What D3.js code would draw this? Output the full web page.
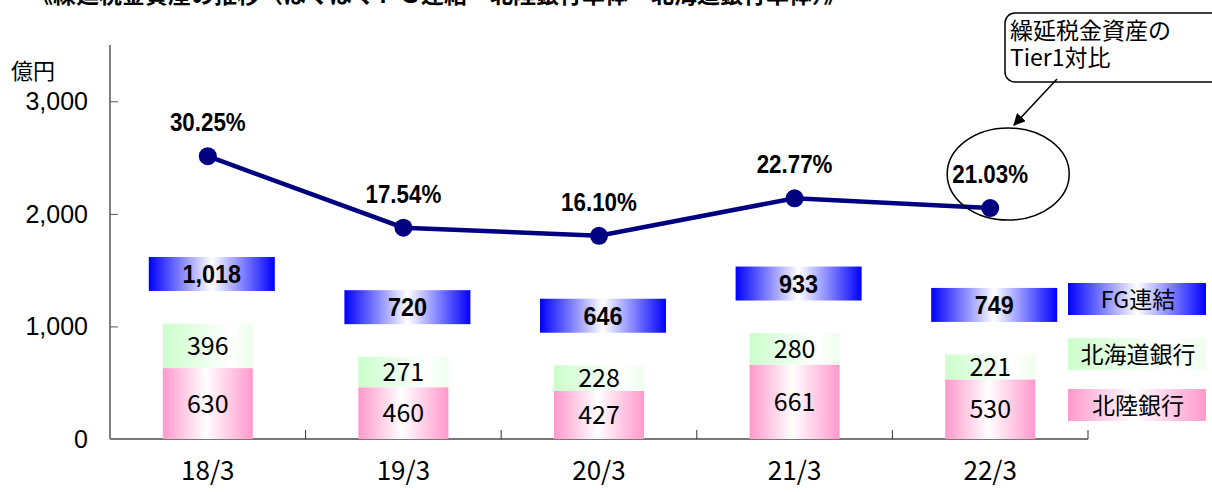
<!DOCTYPE html>
<html>
<head>
<meta charset="utf-8">
<script src="https://cdn.jsdelivr.net/npm/d3@7"></script>
<style>
  body { margin: 0; background: #fff; }
  svg { display: block; }
</style>
</head>
<body>
<svg id="chart" width="1212" height="492"></svg>
<script>
// data
var categories = ["18/3", "19/3", "20/3", "21/3", "22/3"];
var hokurikuVals = [630, 460, 427, 661, 530];
var hokkaidoVals = [396, 271, 228, 280, 221];
var fgVals = [1018, 720, 646, 933, 749];
var tier1Ratio = [30.25, 17.54, 16.10, 22.77, 21.03];
var yTicks = [0, 1000, 2000, 3000];
var legendNames = ["FG連結", "北海道銀行", "北陸銀行"];

var svg = d3.select("#chart");
var defs = svg.append("defs");

var m = {l: 110, t: 45};

var x = d3.scaleBand().domain(categories).range([m.l, 1088]);
var y = d3.scaleLinear().domain([0, 3500]).range([439, m.t]);
// hidden secondary axis for the ratio line
var y2 = d3.scaleLinear().domain([-20, 50]).range([439, m.t]);

function hGrad(id, stops){
	var g = defs.append("linearGradient").attr("id", id)
		.attr("x1", "0%").attr("x2", "100%").attr("y1", "0%").attr("y2", "0%");
	stops.forEach(function(s){
		g.append("stop").attr("offset", s[0]).attr("stop-color", s[1]);
	});
}
hGrad("gPink", [["0%", "#ff99cc"], ["48%", "#ffffff"], ["100%", "#ff99cc"]]);
hGrad("gGreen", [["0%", "#ccffcc"], ["75%", "#ffffff"], ["100%", "#eeffee"]]);
hGrad("gBlue", [["0%", "#0000ff"], ["50%", "#ffffff"], ["100%", "#0000ff"]]);

var jp = "'Noto Sans CJK JP'";
var boldNarrow = "'Liberation Sans', Arial";

// narrow bold text helper (squeezed horizontally)
function narrowText(sel, sx){
	return sel.attr("transform", function(){
		var t = d3.select(this);
		var px = +t.attr("x"), py = +t.attr("y");
		return "translate(" + px + "," + py + ") scale(" + sx + ",1) translate(" + (-px) + "," + (-py) + ")";
	});
}

// cut-off title at very top
svg.append("text")
	.attr("x", 30).attr("y", 3)
	.style("font-family", jp)
	.style("font-weight", "bold")
	.style("font-size", "23px")
	.text("《繰延税金資産の推移（ほくほくＦＧ連結・北陸銀行単体・北海道銀行単体）》");

// y axis
var gy = svg.append("g").attr("transform", "translate(" + m.l + ",0)")
	.call(d3.axisRight(y).tickValues(yTicks).tickSize(8).tickFormat(""));
gy.select(".domain").attr("d", "M0," + m.t + "V439").attr("stroke", "#555").attr("stroke-width", 1.5);
gy.selectAll(".tick line").attr("stroke", "#555");

svg.append("g").selectAll("text").data(yTicks).enter().append("text")
	.attr("x", 88).attr("y", function(d){ return y(d) + 9; })
	.attr("text-anchor", "end")
	.style("font-family", "'Liberation Sans', Arial")
	.style("font-size", "25px")
	.text(function(d){ return d3.format(",")(d); });

svg.append("text").attr("x", 11).attr("y", 79)
	.style("font-family", jp)
	.style("font-size", "22px")
	.text("億円");

// x axis
var gx = svg.append("g").attr("transform", "translate(0,439)")
	.call(d3.axisTop(x).tickSize(0).tickFormat(""));
gx.select(".domain").attr("d", "M" + m.l + ",0H1088").attr("stroke", "#777").attr("stroke-width", 2);
var bounds = d3.range(categories.length + 1).map(function(i){ return m.l + i * x.step(); });
gx.selectAll(".sep").data(bounds.slice(1)).enter().append("line")
	.attr("x1", function(d){ return d; }).attr("x2", function(d){ return d; })
	.attr("y1", 0).attr("y2", -9).attr("stroke", "#333");

svg.append("g").selectAll("text").data(categories).enter().append("text")
	.attr("x", function(d){ return x(d) + x.bandwidth() / 2; })
	.attr("y", 480)
	.attr("text-anchor", "middle")
	.style("font-family", jp)
	.style("font-size", "26px")
	.text(function(d){ return d; });

// stacked bars
var barW = 90;
var rows = categories.map(function(c, i){
	return {cat: c, hok: hokurikuVals[i], hkd: hokkaidoVals[i], fg: fgVals[i], r: tier1Ratio[i]};
});
var cx = function(d){ return x(d.cat) + x.bandwidth() / 2; };
var bars = svg.append("g").selectAll("g").data(rows).enter().append("g");

bars.append("rect")
	.attr("x", function(d){ return cx(d) - barW / 2; })
	.attr("y", function(d){ return y(d.hok); })
	.attr("width", barW)
	.attr("height", function(d){ return y(0) - y(d.hok); })
	.attr("fill", "url(#gPink)");
bars.append("rect")
	.attr("x", function(d){ return cx(d) - barW / 2; })
	.attr("y", function(d){ return y(d.hok + d.hkd); })
	.attr("width", barW)
	.attr("height", function(d){ return y(d.hok) - y(d.hok + d.hkd); })
	.attr("fill", "url(#gGreen)");

bars.append("text")
	.attr("x", cx)
	.attr("y", function(d){ return y(d.hok / 2) + 9; })
	.attr("text-anchor", "middle")
	.style("font-family", jp).style("font-size", "25px")
	.text(function(d){ return d.hok; });
bars.append("text")
	.attr("x", cx)
	.attr("y", function(d){ return y(d.hok + d.hkd / 2) + 9; })
	.attr("text-anchor", "middle")
	.style("font-family", jp).style("font-size", "25px")
	.text(function(d){ return d.hkd; });

// FG total boxes above each stack
var boxW = 126, boxH = 34, boxGap = 440;
bars.append("rect")
	.attr("x", function(d){ return cx(d) + 4 - boxW / 2; })
	.attr("y", function(d){ return y(d.hok + d.hkd + boxGap) - boxH / 2; })
	.attr("width", boxW).attr("height", boxH)
	.attr("fill", "url(#gBlue)");
narrowText(bars.append("text")
	.attr("x", function(d){ return cx(d) + 4; })
	.attr("y", function(d){ return y(d.hok + d.hkd + boxGap) + 9; })
	.attr("text-anchor", "middle")
	.style("font-family", boldNarrow)
	.style("font-weight", "bold").style("font-size", "26px")
	.text(function(d){ return d3.format(",")(d.fg); }), 0.9);

// ratio line
svg.append("path").datum(rows)
	.attr("d", d3.line().x(cx).y(function(d){ return y2(d.r); }))
	.attr("fill", "none").attr("stroke", "#000080").attr("stroke-width", 4.5);
svg.append("g").selectAll("circle").data(rows).enter().append("circle")
	.attr("cx", cx).attr("cy", function(d){ return y2(d.r); })
	.attr("r", 9).attr("fill", "#000080");
narrowText(svg.append("g").selectAll("text").data(rows).enter().append("text")
	.attr("x", cx).attr("y", function(d){ return y2(d.r) - 25; })
	.attr("text-anchor", "middle")
	.style("font-family", boldNarrow)
	.style("font-weight", "bold").style("font-size", "26px")
	.text(function(d){ return d3.format(".2f")(d.r) + "%"; }), 0.86);

// legend
var lg = svg.append("g");
var lgFills = ["url(#gBlue)", "url(#gGreen)", "url(#gPink)"];
var lgY = [283, 338, 389];
legendNames.forEach(function(n, i){
	lg.append("rect").attr("x", 1068).attr("y", lgY[i]).attr("width", 138).attr("height", 32).attr("fill", lgFills[i]);
	lg.append("text").attr("x", 1138).attr("y", lgY[i] + 25).attr("text-anchor", "middle")
		.style("font-family", jp).style("font-size", "23px")
		.text(n);
});

// annotation
defs.append("marker").attr("id", "arr").attr("viewBox", "0 0 10 10")
	.attr("refX", 9).attr("refY", 5).attr("markerWidth", 8).attr("markerHeight", 8)
	.attr("orient", "auto")
	.append("path").attr("d", "M0,0L10,5L0,10z").attr("fill", "#000");
var last = rows[rows.length - 1];
svg.append("ellipse")
	.attr("cx", cx(last) + 18).attr("cy", 174).attr("rx", 61).attr("ry", 46)
	.attr("fill", "none").attr("stroke", "#000").attr("stroke-width", 1.5);
svg.append("rect").attr("x", 1005).attr("y", 13).attr("width", 220).attr("height", 69)
	.attr("rx", 10).attr("fill", "#fff").attr("stroke", "#000").attr("stroke-width", 1.5);
svg.append("text").attr("x", 1010).attr("y", 39)
	.style("font-family", jp).style("font-size", "23px")
	.text("繰延税金資産の");
svg.append("text").attr("x", 1010).attr("y", 66)
	.style("font-family", jp).style("font-size", "23px")
	.text("Tier1対比");
svg.append("line").attr("x1", 1057).attr("y1", 79).attr("x2", 1014).attr("y2", 125)
	.attr("stroke", "#000").attr("stroke-width", 1.5).attr("marker-end", "url(#arr)");
</script>
</body>
</html>
